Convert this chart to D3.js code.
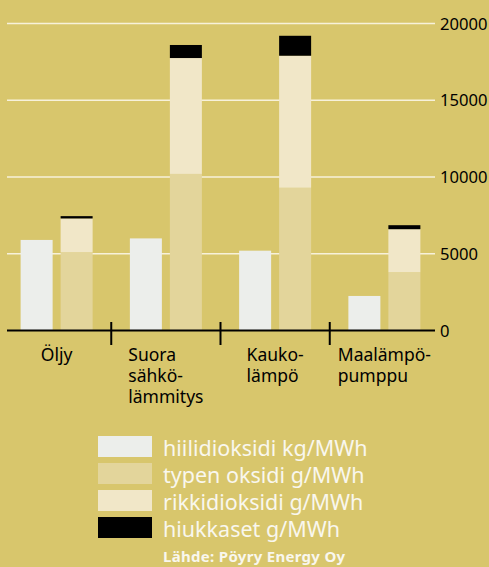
<!DOCTYPE html>
<html>
<head>
<meta charset="utf-8">
<script src="https://cdn.jsdelivr.net/npm/d3@7"></script>
<style>
  html, body { margin: 0; padding: 0; background: #d8c66c; }
  svg { display: block; font-family: "Noto Sans", sans-serif; }
</style>
</head>
<body>
<div id="chart"></div>
<script>
// values
const categories = [["Öljy"], ["Suora", "sähkö-", "lämmitys"], ["Kauko-", "lämpö"], ["Maalämpö-", "pumppu"]];
const co2 = [5900, 6000, 5200, 2250];        // hiilidioksidi kg/MWh
const nox = [5100, 10200, 9300, 3800];       // typen oksidi g/MWh
const so2 = [2200, 7550, 8600, 2800];        // rikkidioksidi g/MWh
const particles = [150, 850, 1300, 260];     // hiukkaset g/MWh
const yTicks = [0, 5000, 10000, 15000, 20000];
const legendLabels = ["hiilidioksidi kg/MWh", "typen oksidi g/MWh", "rikkidioksidi g/MWh", "hiukkaset g/MWh"];
const source = "Lähde: Pöyry Energy Oy";

const width = 489, height = 567;
const bg = '#d8c66c',
    co2Color = '#eceeeb',
    noxColor = '#e3d59b',
    so2Color = '#f1e7c8',
    partColor = '#000000',
    gridColor = '#f7f1da',
    legendText = '#f9f7ee';
const colors = [co2Color, noxColor, so2Color, partColor];

const svg = d3.select('#chart').append('svg')
    .attr('width', width)
    .attr('height', height);

svg.append('rect').attr('width', width).attr('height', height).attr('fill', bg);

const y = d3.scaleLinear().domain([0, 20000]).range([330.5, 23.5]);
const x = d3.scaleBand().domain(d3.range(categories.length)).range([2, 439]);
const inner = d3.scaleBand().domain(['co2', 'stack']).range([-36, 36]).paddingInner(0.2);

// grid lines
svg.append('g').selectAll('line')
    .data(yTicks.filter(d => d > 0))
    .enter().append('line')
    .attr('x1', 7).attr('x2', 435)
    .attr('y1', d => y(d)).attr('y2', d => y(d))
    .attr('stroke', gridColor).attr('stroke-width', 1.5);

// tick labels
svg.append('g').selectAll('text')
    .data(yTicks)
    .enter().append('text')
    .attr('x', 440)
    .attr('y', d => y(d) + 6)
    .attr('font-size', 16.6)
    .attr('fill', '#000')
    .text(d => d);

// bars
const groups = svg.append('g').selectAll('g')
    .data(categories.map((c, i) => i))
    .enter().append('g')
    .attr('transform', i => 'translate(' + (x(i) + x.bandwidth() / 2) + ',0)');

groups.append('rect')
    .attr('x', inner('co2'))
    .attr('width', inner.bandwidth())
    .attr('y', i => y(co2[i]))
    .attr('height', i => y(0) - y(co2[i]))
    .attr('fill', co2Color);

const stackKeys = ['nox', 'so2', 'particles'];
const stackRows = categories.map((c, i) => ({ idx: i, nox: nox[i], so2: so2[i], particles: particles[i] }));
const stacked = d3.stack().keys(stackKeys)(stackRows);

stacked.forEach((layer, k) => {
    groups.append('rect')
        .attr('x', inner('stack'))
        .attr('width', inner.bandwidth())
        .attr('y', i => y(layer[i][1]))
        .attr('height', i => y(layer[i][0]) - y(layer[i][1]))
        .attr('fill', colors[k + 1]);
});

// axis line + separators
svg.append('line')
    .attr('x1', 7).attr('x2', 435)
    .attr('y1', y(0)).attr('y2', y(0))
    .attr('stroke', '#000').attr('stroke-width', 2);

svg.append('g').selectAll('line')
    .data(d3.range(1, categories.length))
    .enter().append('line')
    .attr('x1', i => x(i)).attr('x2', i => x(i))
    .attr('y1', 322).attr('y2', 345)
    .attr('stroke', '#000').attr('stroke-width', 2);

// category labels, left aligned block centred in band
const labelG = svg.append('g').selectAll('g')
    .data(categories)
    .enter().append('g');

labelG.each(function(lines, i) {
    const g = d3.select(this);
    const t = g.append('text')
        .attr('font-size', 17.5)
        .attr('fill', '#000');
    lines.forEach((line, j) => {
        t.append('tspan').attr('x', 0).attr('y', 361 + j * 21).text(line);
    });
    const w = t.node().getBBox().width;
    g.attr('transform', 'translate(' + (x(i) + x.bandwidth() / 2 - w / 2) + ',0)');
});

// legend
const legend = svg.append('g').selectAll('g')
    .data(legendLabels)
    .enter().append('g')
    .attr('transform', (d, i) => 'translate(98,' + (436 + i * 27) + ')');

legend.append('rect')
    .attr('width', 54).attr('height', 21)
    .attr('fill', (d, i) => colors[i]);

legend.append('text')
    .attr('x', 65).attr('y', 20)
    .attr('font-size', 21.5)
    .attr('fill', legendText)
    .text(d => d);

svg.append('text')
    .attr('x', 163).attr('y', 562)
    .attr('font-size', 15)
    .attr('font-weight', 'bold')
    .attr('letter-spacing', 0.3)
    .attr('fill', legendText)
    .text(source);
</script>
</body>
</html>
